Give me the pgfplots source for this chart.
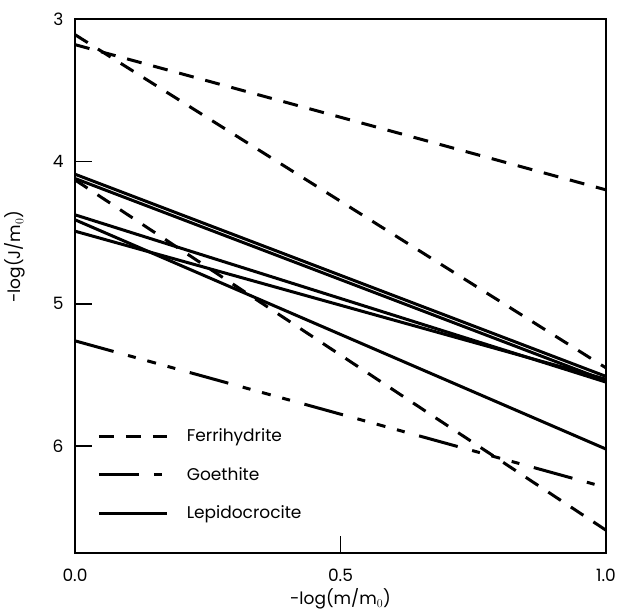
\documentclass[border=0pt]{standalone}
\usepackage{fontspec}
\setmainfont{Poppins}
\usepackage{pgfplots}
\pgfplotsset{compat=1.18}
\begin{document}
\begin{tikzpicture}
\begin{axis}[
  at={(0pt,0pt)}, anchor=south west,
  scale only axis, width=531pt, height=534pt,
  xmin=0, xmax=1, ymin=3, ymax=6.75, y dir=reverse,
  xtick={0,0.5,1}, xticklabels={0.0,0.5,1.0},
  ytick={3,4,5,6}, yticklabels={3,4,5,6},
  xtick pos=bottom, ytick pos=left,
  tick align=inside, major tick length=17pt,
  tick style={line width=1.8pt, black},
  axis line style={line width=2.5pt},
  every axis plot/.append style={line width=3pt, black, no marks},
  tick label style={font=\fontsize{17}{20}\selectfont},
  xticklabel style={yshift=-12pt},
  yticklabel style={xshift=-8pt},
  label style={font=\fontsize{17}{20}\selectfont},
  xlabel={-log(m/m$_0$)}, ylabel={-log(J/m$_0$)},
  xlabel style={at={(axis description cs:0.5,0)}, anchor=center, yshift=-46pt},
  ylabel style={at={(axis description cs:-0.113,0.555)}, anchor=center},
  /pgf/number format/assume math mode=true,
  legend style={at={(0.036,0.24)}, anchor=north west, draw=none, fill=none,
    font=\fontsize{17}{20}\selectfont, row sep=20pt,
    nodes={inner sep=2pt}},
  legend cell align=left,
  legend image code/.code={\draw[#1] (0pt,0pt) -- (68pt,0pt); \path[draw=none] (0pt,0pt) -- (86pt,0pt);},
]
% Ferrihydrite
\addplot[black, dash pattern=on 15pt off 12pt] coordinates {(0,3.18) (1,4.20)};
\addlegendentry{Ferrihydrite}
\addplot[black, dash pattern=on 15pt off 12pt, forget plot] coordinates {(0,3.11) (1,5.45)};
\addplot[black, dash pattern=on 15pt off 12pt, forget plot] coordinates {(0,4.13) (1,6.59)};
% Goethite
\addplot[black, dash pattern=on 40pt off 15pt on 8pt off 12pt on 9pt off 12pt on 8pt off 15pt] coordinates {(0,5.26) (1,6.29)};
\addlegendentry{Goethite}
% Lepidocrocite
\addplot[black, solid] coordinates {(0,4.09) (1,5.51)};
\addlegendentry{Lepidocrocite}
\addplot[black, solid, forget plot] coordinates {(0,4.12) (1,5.54)};
\addplot[black, solid, forget plot] coordinates {(0,4.375) (1,5.55)};
\addplot[black, solid, forget plot] coordinates {(0,4.49) (1,5.53)};
\addplot[black, solid, forget plot] coordinates {(0,4.41) (1,6.02)};
\end{axis}
\pgfresetboundingbox
\path (-75pt,-59pt) rectangle (545pt,553pt);
\end{tikzpicture}
\end{document}
